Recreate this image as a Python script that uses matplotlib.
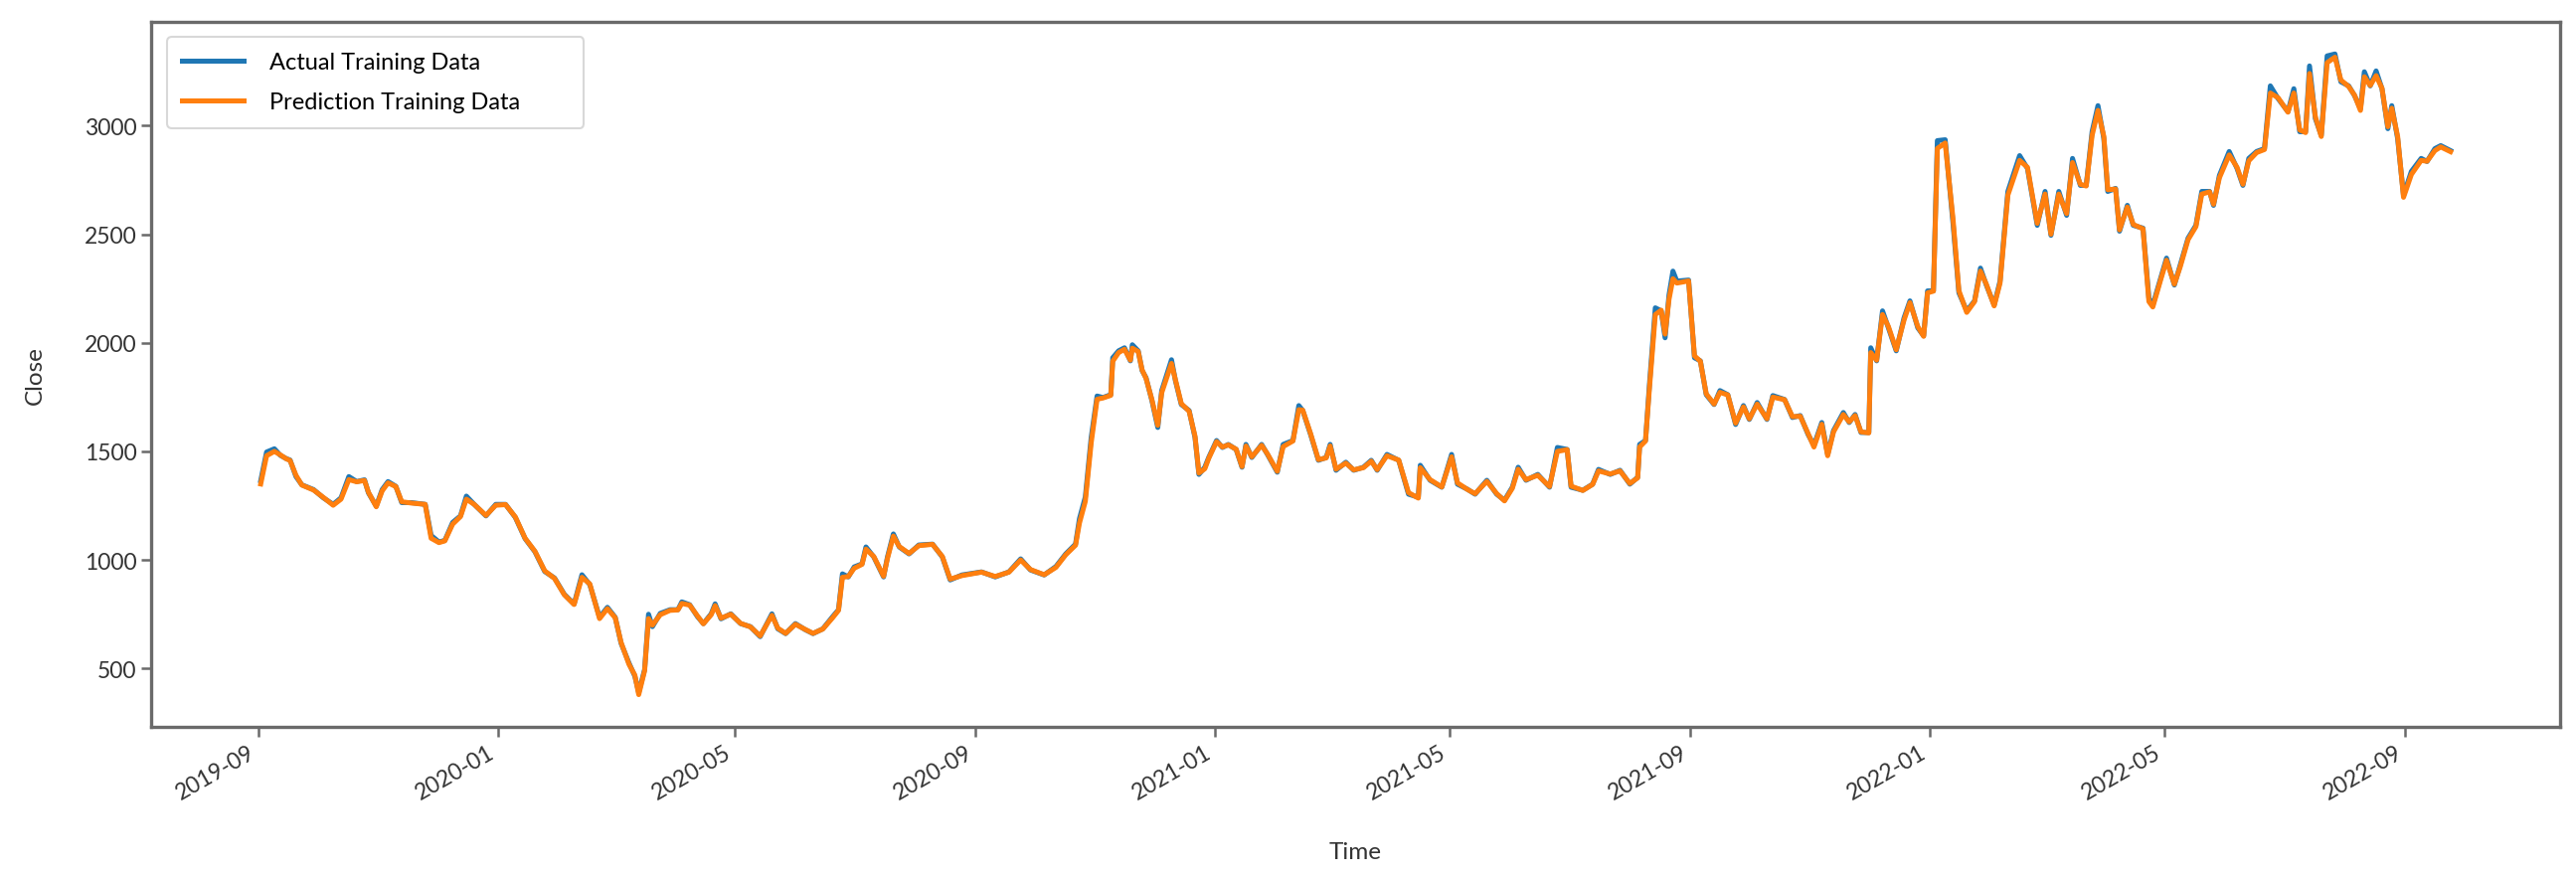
import matplotlib
matplotlib.use("Agg")
import matplotlib.pyplot as plt
import matplotlib.dates as mdates
import pandas as pd

START_DATE = "2019-09-01"

# x values: days after START_DATE
days = [1, 4, 8, 11, 14, 16, 19, 22, 28, 33, 38, 42, 46, 50, 54, 56, 60, 63, 66, 70,
        73, 78, 85, 88, 92, 95, 99, 103, 106, 110, 116, 121, 126, 131, 136, 141, 146, 151, 156, 161,
        165, 169, 174, 178, 182, 185, 189, 192, 194, 197, 199, 201, 205, 210, 214, 216, 220, 224, 227, 231,
        233, 236, 241, 246, 251, 256, 262, 265, 269, 274, 279, 283, 288, 293, 296, 298, 301, 304, 308, 310,
        314, 319, 321, 324, 327, 332, 337, 344, 349, 353, 359, 369, 376, 383, 389, 394, 401, 407, 412, 417,
        419, 422, 425, 428, 431, 435, 436, 439, 442, 445, 446, 449, 451, 453, 456, 459, 461, 466, 468, 471,
        475, 478, 480, 483, 485, 489, 492, 495, 499, 502, 504, 507, 512, 515, 520, 523, 528, 531, 533, 537,
        541, 545, 547, 550, 555, 559, 564, 568, 571, 576, 582, 587, 592, 593, 598, 604, 609, 612, 617, 621,
        627, 632, 636, 640, 643, 647, 653, 659, 663, 668, 670, 676, 681, 684, 690, 695, 700, 704, 705, 708,
        710, 713, 716, 718, 720, 722, 724, 730, 733, 736, 739, 743, 746, 750, 754, 758, 761, 765, 770, 773,
        779, 783, 787, 791, 794, 798, 801, 804, 809, 812, 815, 818, 822, 823, 826, 829, 832, 836, 840, 843,
        847, 850, 852, 855, 857, 861, 865, 868, 872, 876, 879, 882, 886, 889, 893, 899, 903, 908, 912, 915,
        919, 923, 926, 930, 933, 936, 939, 942, 944, 948, 950, 954, 957, 962, 965, 967, 971, 974, 978, 981,
        985, 989, 992, 996, 998, 1001, 1006, 1010, 1013, 1016, 1020, 1024, 1027, 1031, 1036, 1039, 1042, 1045, 1047, 1050,
        1053, 1056, 1060, 1063, 1067, 1070, 1073, 1075, 1078, 1081, 1084, 1087, 1089, 1092, 1095, 1099, 1104, 1107, 1111, 1114,
        1119]

actual = [1365, 1497, 1512, 1482, 1467, 1460, 1384, 1346, 1324, 1286, 1256, 1286, 1384, 1361, 1369, 1309, 1248, 1324, 1361, 1339,
          1264, 1264, 1256, 1113, 1083, 1090, 1173, 1203, 1294, 1256, 1203, 1256, 1256, 1196, 1098, 1038, 947, 917, 842, 797,
          932, 887, 736, 782, 736, 616, 526, 465, 390, 495, 750, 693, 754, 771, 771, 807, 794, 739, 707, 752,
          798, 729, 752, 707, 693, 647, 752, 683, 661, 707, 679, 661, 683, 739, 771, 936, 922, 968, 982, 1060,
          1014, 922, 1014, 1120, 1060, 1028, 1069, 1073, 1014, 908, 931, 945, 922, 945, 1005, 954, 931, 970, 1028, 1073,
          1190, 1290, 1564, 1755, 1748, 1761, 1931, 1963, 1977, 1917, 1991, 1963, 1872, 1839, 1734, 1610, 1780, 1922, 1826, 1716,
          1688, 1564, 1394, 1427, 1472, 1550, 1518, 1532, 1509, 1427, 1532, 1472, 1532, 1486, 1404, 1532, 1550, 1711, 1688, 1578,
          1459, 1472, 1532, 1413, 1450, 1413, 1427, 1459, 1413, 1486, 1459, 1303, 1289, 1436, 1367, 1335, 1486, 1349, 1326, 1303,
          1367, 1303, 1275, 1335, 1427, 1367, 1394, 1335, 1518, 1509, 1335, 1321, 1349, 1417, 1394, 1413, 1349, 1381, 1532, 1550,
          1807, 2161, 2147, 2023, 2220, 2330, 2284, 2289, 1931, 1917, 1761, 1716, 1780, 1761, 1624, 1711, 1647, 1725, 1647, 1757,
          1739, 1656, 1665, 1578, 1528, 1633, 1486, 1596, 1679, 1633, 1670, 1587, 1587, 1977, 1917, 2147, 2069, 1963, 2115, 2193,
          2069, 2032, 2239, 2239, 2931, 2935, 2550, 2230, 2147, 2193, 2344, 2266, 2174, 2284, 2697, 2862, 2803, 2541, 2697, 2495,
          2697, 2587, 2849, 2725, 2725, 2972, 3092, 2940, 2697, 2711, 2514, 2633, 2541, 2528, 2206, 2174, 2298, 2390, 2266, 2358,
          2482, 2541, 2697, 2697, 2633, 2771, 2881, 2803, 2725, 2849, 2881, 2894, 3183, 3124, 3064, 3170, 2972, 2972, 3275, 3032,
          2955, 3321, 3330, 3202, 3183, 3138, 3078, 3248, 3183, 3252, 3170, 2986, 3092, 2940, 2679, 2789, 2849, 2835, 2894, 2908,
          2885]

prediction = [1350, 1480, 1500, 1484, 1466, 1458, 1390, 1345, 1322, 1288, 1252, 1280, 1370, 1360, 1366, 1312, 1245, 1318, 1355, 1338,
              1268, 1262, 1256, 1100, 1080, 1088, 1165, 1200, 1280, 1256, 1205, 1252, 1255, 1198, 1100, 1040, 950, 915, 840, 795,
              920, 890, 730, 776, 734, 620, 520, 470, 380, 490, 730, 700, 748, 768, 770, 800, 792, 742, 706, 748,
              790, 732, 750, 708, 692, 650, 745, 686, 662, 704, 680, 662, 682, 734, 768, 920, 924, 962, 980, 1050,
              1016, 925, 1008, 1110, 1062, 1030, 1066, 1072, 1016, 912, 928, 944, 924, 944, 1000, 956, 932, 966, 1024, 1068,
              1170, 1270, 1540, 1740, 1746, 1758, 1915, 1955, 1970, 1920, 1975, 1960, 1875, 1836, 1738, 1620, 1770, 1905, 1830, 1720,
              1685, 1570, 1400, 1420, 1468, 1545, 1520, 1530, 1510, 1430, 1525, 1475, 1528, 1488, 1408, 1522, 1548, 1692, 1690, 1582,
              1462, 1470, 1525, 1418, 1446, 1415, 1425, 1455, 1416, 1480, 1460, 1310, 1285, 1425, 1370, 1336, 1475, 1355, 1325, 1305,
              1362, 1306, 1272, 1330, 1418, 1370, 1390, 1338, 1500, 1508, 1340, 1320, 1348, 1410, 1396, 1410, 1352, 1378, 1520, 1548,
              1790, 2130, 2150, 2040, 2200, 2295, 2275, 2285, 1940, 1915, 1765, 1718, 1772, 1760, 1630, 1705, 1650, 1718, 1650, 1750,
              1738, 1660, 1662, 1582, 1520, 1625, 1480, 1590, 1670, 1636, 1665, 1590, 1585, 1955, 1920, 2130, 2075, 1968, 2105, 2185,
              2075, 2030, 2230, 2238, 2895, 2920, 2570, 2240, 2140, 2190, 2330, 2270, 2170, 2275, 2680, 2840, 2808, 2550, 2685, 2500,
              2685, 2595, 2830, 2730, 2722, 2955, 3070, 2950, 2705, 2708, 2520, 2625, 2545, 2525, 2190, 2165, 2290, 2380, 2270, 2350,
              2475, 2535, 2685, 2695, 2638, 2760, 2865, 2808, 2730, 2838, 2876, 2890, 3150, 3128, 3062, 3150, 2980, 2968, 3240, 3040,
              2950, 3290, 3315, 3210, 3180, 3140, 3070, 3225, 3185, 3230, 3172, 2995, 3080, 2950, 2670, 2775, 2840, 2836, 2885, 2902,
              2880]

dates = pd.Timestamp(START_DATE) + pd.to_timedelta(days, unit="D")

plt.rcParams["font.family"] = ["Lato", "DejaVu Sans"]

fig = plt.figure(figsize=(25.91, 8.87), dpi=100)
ax = fig.add_axes([0.0587, 0.175, 0.9351, 0.799])

ax.plot(dates, actual, color="#1f77b4", linewidth=3.6, label="Actual Training Data")
ax.plot(dates, prediction, color="#ff7f0e", linewidth=3.6, label="Prediction Training Data")

ax.xaxis.set_major_locator(mdates.MonthLocator(bymonth=[1, 5, 9]))
ax.xaxis.set_major_formatter(mdates.DateFormatter("%Y-%m"))
for lbl in ax.get_xticklabels():
    lbl.set_rotation(30)
    lbl.set_ha("right")

ax.set_yticks([500, 1000, 1500, 2000, 2500, 3000])

for sp in ax.spines.values():
    sp.set_color("#6a6a6a")
    sp.set_linewidth(2.4)
ax.tick_params(axis="both", colors="#6a6a6a", length=7, width=1.8, labelsize=16.5,
               labelcolor="#333333")

ax.set_xlabel("Time", fontsize=17.5, color="#333333", labelpad=28)
ax.set_ylabel("Close", fontsize=17.5, color="#333333", labelpad=28)

leg = ax.legend(loc="upper left", bbox_to_anchor=(0.0066, 0.979, 0.173, 0.0),
                mode="expand", borderaxespad=0.0, fontsize=17, handlelength=2.6,
                handletextpad=1.1, labelspacing=0.8, borderpad=0.65,
                framealpha=1.0, edgecolor="#d8d8d8")
leg.get_frame().set_linewidth(1.5)

fig.savefig("out.png", dpi=100)
